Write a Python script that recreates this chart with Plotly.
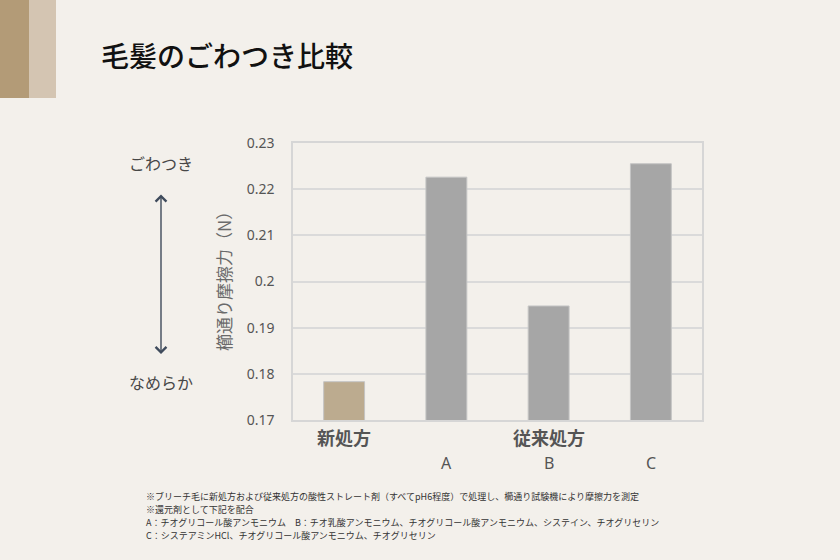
import plotly.graph_objects as go

# data
categories = ["新処方", "A", "B", "C"]
friction = [0.1783, 0.2226, 0.1947, 0.2255]
bar_colors = ["#bcab8f", "#a6a6a6", "#a6a6a6", "#a6a6a6"]
y_ticks = [0.17, 0.18, 0.19, 0.2, 0.21, 0.22, 0.23]
y_tick_text = ["0.17", "0.18", "0.19", "0.2", "0.21", "0.22", "0.23"]

title = "毛髪のごわつき比較"
y_title = "櫛通り摩擦力（N）"
notes = [
    "※ブリーチ毛に新処方および従来処方の酸性ストレート剤（すべてpH6程度）で処理し、櫛通り試験機により摩擦力を測定",
    "※還元剤として下記を配合",
    "A：チオグリコール酸アンモニウム　B：チオ乳酸アンモニウム、チオグリコール酸アンモニウム、システイン、チオグリセリン",
    "C：システアミンHCl、チオグリコール酸アンモニウム、チオグリセリン",
]

W, H = 840, 560
L, R, T, B = 293, 138, 143, 140
BG = "#f3f0eb"
JP = "Noto Sans CJK JP"


def px_x(px):
    return (px - L) / (W - L - R)


def px_y(py):
    return (H - B - py) / (H - T - B)


def label(x, y, text, font, xref="paper", **kw):
    d = dict(x=x, y=y, xref=xref, yref="paper", text=text, showarrow=False,
             xanchor="center", yanchor="middle", font=font)
    d.update(kw)
    return d


fig = go.Figure()
fig.add_trace(go.Bar(
    x=categories,
    y=friction,
    marker=dict(color=bar_colors, line=dict(color="#c4c4c4", width=1)),
    width=0.4,
    hoverinfo="x+y",
))

cat_font = dict(family=JP, size=18, color="#555555", weight="bold")
annotations = [
    label("新処方", px_y(437), "新処方", cat_font, xref="x"),
    label("B", px_y(437), "従来処方", cat_font, xref="x"),
]
for c in categories[1:]:
    annotations.append(label(c, px_y(463), c, dict(family="Noto Sans", size=16, color="#555555"), xref="x"))

# y axis title
annotations.append(label(px_x(223), px_y(277), y_title,
                         dict(family=JP, size=17, color="#6a6a6a"), textangle=-90))

# rough / smooth scale on the left
side_font = dict(family=JP, size=16, color="#474747")
annotations.append(label(px_x(161), px_y(163), "ごわつき", side_font))
annotations.append(label(px_x(161), px_y(382), "なめらか", side_font))
annotations.append(dict(x=px_x(161), y=px_y(354), xref="paper", yref="paper", text="",
                        showarrow=True, ax=0, ay=-161, axref="pixel", ayref="pixel",
                        arrowside="end+start", arrowhead=4, startarrowhead=4,
                        arrowsize=1.5, startarrowsize=1.5, arrowwidth=1.4, arrowcolor="#3f4b5c"))

# title
annotations.append(label(px_x(99), px_y(55), title,
                         dict(family=JP, size=28, color="#111111", weight=500), xanchor="left"))

# footnotes
for i, line in enumerate(notes):
    annotations.append(label(px_x(144), px_y(496 + i * 13), line,
                             dict(family=JP, size=9, color="#333333"), xanchor="left"))

shapes = [
    dict(type="rect", xref="paper", yref="paper", x0=px_x(0), x1=px_x(29), y0=px_y(98), y1=px_y(0),
         fillcolor="#b39b77", line=dict(width=0), layer="below"),
    dict(type="rect", xref="paper", yref="paper", x0=px_x(29), x1=px_x(56), y0=px_y(98), y1=px_y(0),
         fillcolor="#d4c5b2", line=dict(width=0), layer="below"),
]

fig.update_layout(
    width=W, height=H,
    margin=dict(l=L, r=R, t=T, b=B, pad=0),
    paper_bgcolor=BG, plot_bgcolor=BG,
    showlegend=False,
    bargap=0.6,
    annotations=annotations,
    shapes=shapes,
    font=dict(family=JP, color="#555555"),
)
fig.update_xaxes(showticklabels=False, showline=True, linecolor="#d6d6d6", linewidth=1.5,
                 mirror=True, showgrid=False)
fig.update_yaxes(range=[0.17, 0.23], tickvals=y_ticks, ticktext=y_tick_text,
                 showline=True, linecolor="#d6d6d6", linewidth=1.5, mirror=True,
                 gridcolor="#dadada", gridwidth=1.5, zeroline=False,
                 ticks="", ticklabelstandoff=14,
                 tickfont=dict(family="Noto Sans", size=14, color="#555555"))

fig.write_html("out.html", config={"displayModeBar": False},
               post_script="document.body.style.margin='0';document.body.style.background='%s';" % BG)
